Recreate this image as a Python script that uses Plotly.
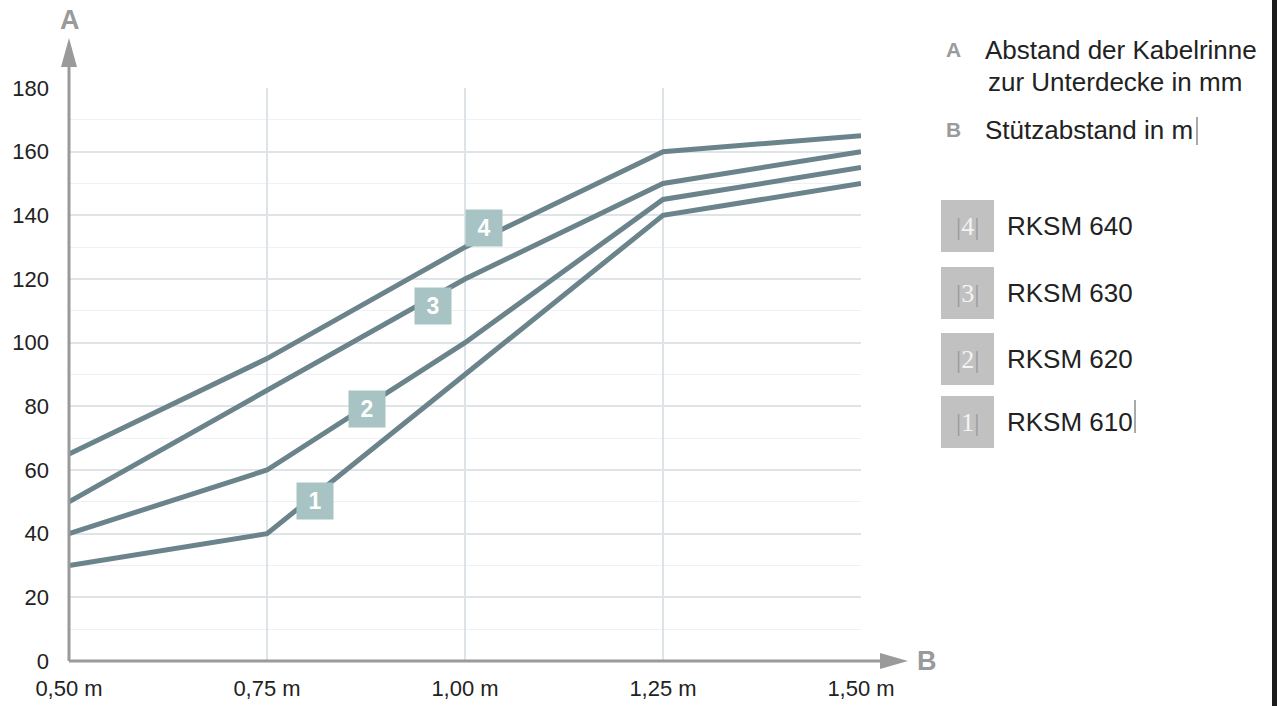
import numpy as np
import plotly.graph_objects as go

# ---------------- data ----------------
x_vals = [0.50, 0.75, 1.00, 1.25, 1.50]
x_labels = ["0,50 m", "0,75 m", "1,00 m", "1,25 m", "1,50 m"]
y_ticks = [0, 20, 40, 60, 80, 100, 120, 140, 160, 180]

rksm_610 = [30, 40, 90, 140, 150]
rksm_620 = [40, 60, 100, 145, 155]
rksm_630 = [50, 85, 120, 150, 160]
rksm_640 = [65, 95, 130, 160, 165]

series_names = ["RKSM 610", "RKSM 620", "RKSM 630", "RKSM 640"]
series_values = [rksm_610, rksm_620, rksm_630, rksm_640]
series_numbers = ["1", "2", "3", "4"]
label_x = [0.811, 0.876, 0.96, 1.024]   # where the number badges sit on each line
label_shift = [-6, -3, -9, 10]          # small pixel offsets of the badges

# ---------------- styling / layout ----------------
FIG_W, FIG_H = 1277, 706
L, R, T, B = 69, 861, 88, 661         # plot area in page pixels
LINE_COLOR = "#6b838b"
BADGE_COLOR = "#a8c3c3"
AXIS_COLOR = "#9a9a9a"
FONT = "Liberation Sans, Arial, sans-serif"


def px(xp, yp):
    """page pixel -> paper coordinates"""
    return (xp - L) / (R - L), (B - yp) / (B - T)


fig = go.Figure()

for name, vals in zip(series_names, series_values):
    fig.add_trace(go.Scatter(
        x=x_vals, y=vals, mode="lines", name=name,
        line=dict(color=LINE_COLOR, width=5), showlegend=False,
        hoverinfo="x+y+name"))

annotations = []
shapes = []

# number badges on the lines
for num, vals, lx, sh in zip(series_numbers, series_values, label_x, label_shift):
    ly = float(np.interp(lx, x_vals, vals))
    annotations.append(dict(
        x=lx, y=ly, xref="x", yref="y", text="<b>%s</b>" % num,
        xanchor="center", yanchor="middle", yshift=sh,
        showarrow=False, bgcolor=BADGE_COLOR, width=36, height=36,
        borderpad=0, font=dict(family=FONT, size=23, color="white")))

# axes with arrows (drawn as shapes)
x0p, y0p = px(L, B)
_, ytop = px(L, 66)
shapes.append(dict(type="line", xref="paper", yref="paper",
                   x0=x0p, y0=y0p, x1=x0p, y1=ytop,
                   line=dict(color=AXIS_COLOR, width=3)))
xr, _ = px(882, B)
shapes.append(dict(type="line", xref="paper", yref="paper",
                   x0=x0p, y0=y0p, x1=xr, y1=y0p,
                   line=dict(color=AXIS_COLOR, width=3)))


def tri(p1, p2, p3):
    a, b, c = px(*p1), px(*p2), px(*p3)
    return "M %f %f L %f %f L %f %f Z" % (a[0], a[1], b[0], b[1], c[0], c[1])


shapes.append(dict(type="path", xref="paper", yref="paper",
                   path=tri((L, 38), (L - 8, 67), (L + 8, 67)),
                   fillcolor=AXIS_COLOR, line=dict(width=0)))
shapes.append(dict(type="path", xref="paper", yref="paper",
                   path=tri((908, B), (880, B - 8), (880, B + 8)),
                   fillcolor=AXIS_COLOR, line=dict(width=0)))


def text_at(xp, yp, txt, size=26, color="#222222", xanchor="left", family=FONT):
    xx, yy = px(xp, yp)
    annotations.append(dict(x=xx, y=yy, xref="paper", yref="paper", text=txt,
                            showarrow=False, xanchor=xanchor, yanchor="middle",
                            font=dict(family=family, size=size, color=color)))


# axis letters
text_at(70, 20, "<b>A</b>", size=27, color=AXIS_COLOR, xanchor="center")
text_at(927, 661, "<b>B</b>", size=27, color=AXIS_COLOR, xanchor="center")

# description texts (top right)
text_at(944, 50, "<b>A</b>", size=21, color=AXIS_COLOR)
text_at(983, 50, "Abstand der Kabelrinne")
text_at(986, 82, "zur Unterdecke in mm")
text_at(944, 130, "<b>B</b>", size=21, color=AXIS_COLOR)
text_at(983, 130, "Stützabstand in m")

# legend boxes
legend_centers_y = [422, 359, 293, 226]   # for 610, 620, 630, 640
for num, name, cy in zip(series_numbers, series_names, legend_centers_y):
    xa, ya = px(941, cy - 26)
    xb, yb = px(994, cy + 26)
    shapes.append(dict(type="rect", xref="paper", yref="paper",
                       x0=xa, y0=ya, x1=xb, y1=yb,
                       fillcolor="#c1c1c2", line=dict(width=0)))
    text_at(967, cy,
            "<span style='color:#9a9a9a'>|</span>%s<span style='color:#9a9a9a'>|</span>" % num,
            size=26, color="#f4f4f4", xanchor="center",
            family="Liberation Serif, Times New Roman, serif")
    text_at(1005, cy, name)

# little cursor artifacts
for (xc, ya_, yb_) in [(1197, 117, 145), (1135, 400, 433)]:
    xx, y1 = px(xc, ya_)
    _, y2 = px(xc, yb_)
    shapes.append(dict(type="line", xref="paper", yref="paper", x0=xx, x1=xx,
                       y0=y1, y1=y2, line=dict(color="#555555", width=1)))

# dark strip at the right edge
xs0, ys0 = px(1272, -10)
xs1, ys1 = px(1290, 720)
shapes.append(dict(type="rect", xref="paper", yref="paper", x0=xs0, x1=xs1,
                   y0=ys1, y1=ys0, fillcolor="#1c1c1c", line=dict(width=0)))

fig.update_layout(
    width=FIG_W, height=FIG_H,
    margin=dict(l=L, r=FIG_W - R, t=T, b=FIG_H - B, pad=0, autoexpand=False),
    paper_bgcolor="white", plot_bgcolor="white",
    font=dict(family=FONT, size=22, color="#222222"),
    xaxis=dict(range=[0.5, 1.5], tickmode="array", tickvals=x_vals, ticktext=x_labels,
               automargin=False,
               showgrid=True, gridcolor="#dde4e8", gridwidth=1.5,
               zeroline=False, showline=False, ticks="", ticklabelstandoff=12,
               tickfont=dict(size=22, color="#222222"), fixedrange=True),
    yaxis=dict(range=[0, 180], tickmode="array", tickvals=y_ticks,
               automargin=False,
               showgrid=True, gridcolor="#dfe4e7", gridwidth=1.5,
               minor=dict(dtick=10, showgrid=True, gridcolor="#eef1f3", gridwidth=1),
               zeroline=False, showline=False, ticks="", ticklabelstandoff=19,
               tickfont=dict(size=22, color="#222222"), fixedrange=True),
    shapes=shapes, annotations=annotations,
)

# remove the default page margin so the figure sits at the window's corner
fig.write_html(
    "out.html",
    config={"displayModeBar": False},
    post_script=("document.body.style.margin='0';"
                 "document.body.style.overflow='hidden';"
                 "document.documentElement.style.overflow='hidden';"),
)
